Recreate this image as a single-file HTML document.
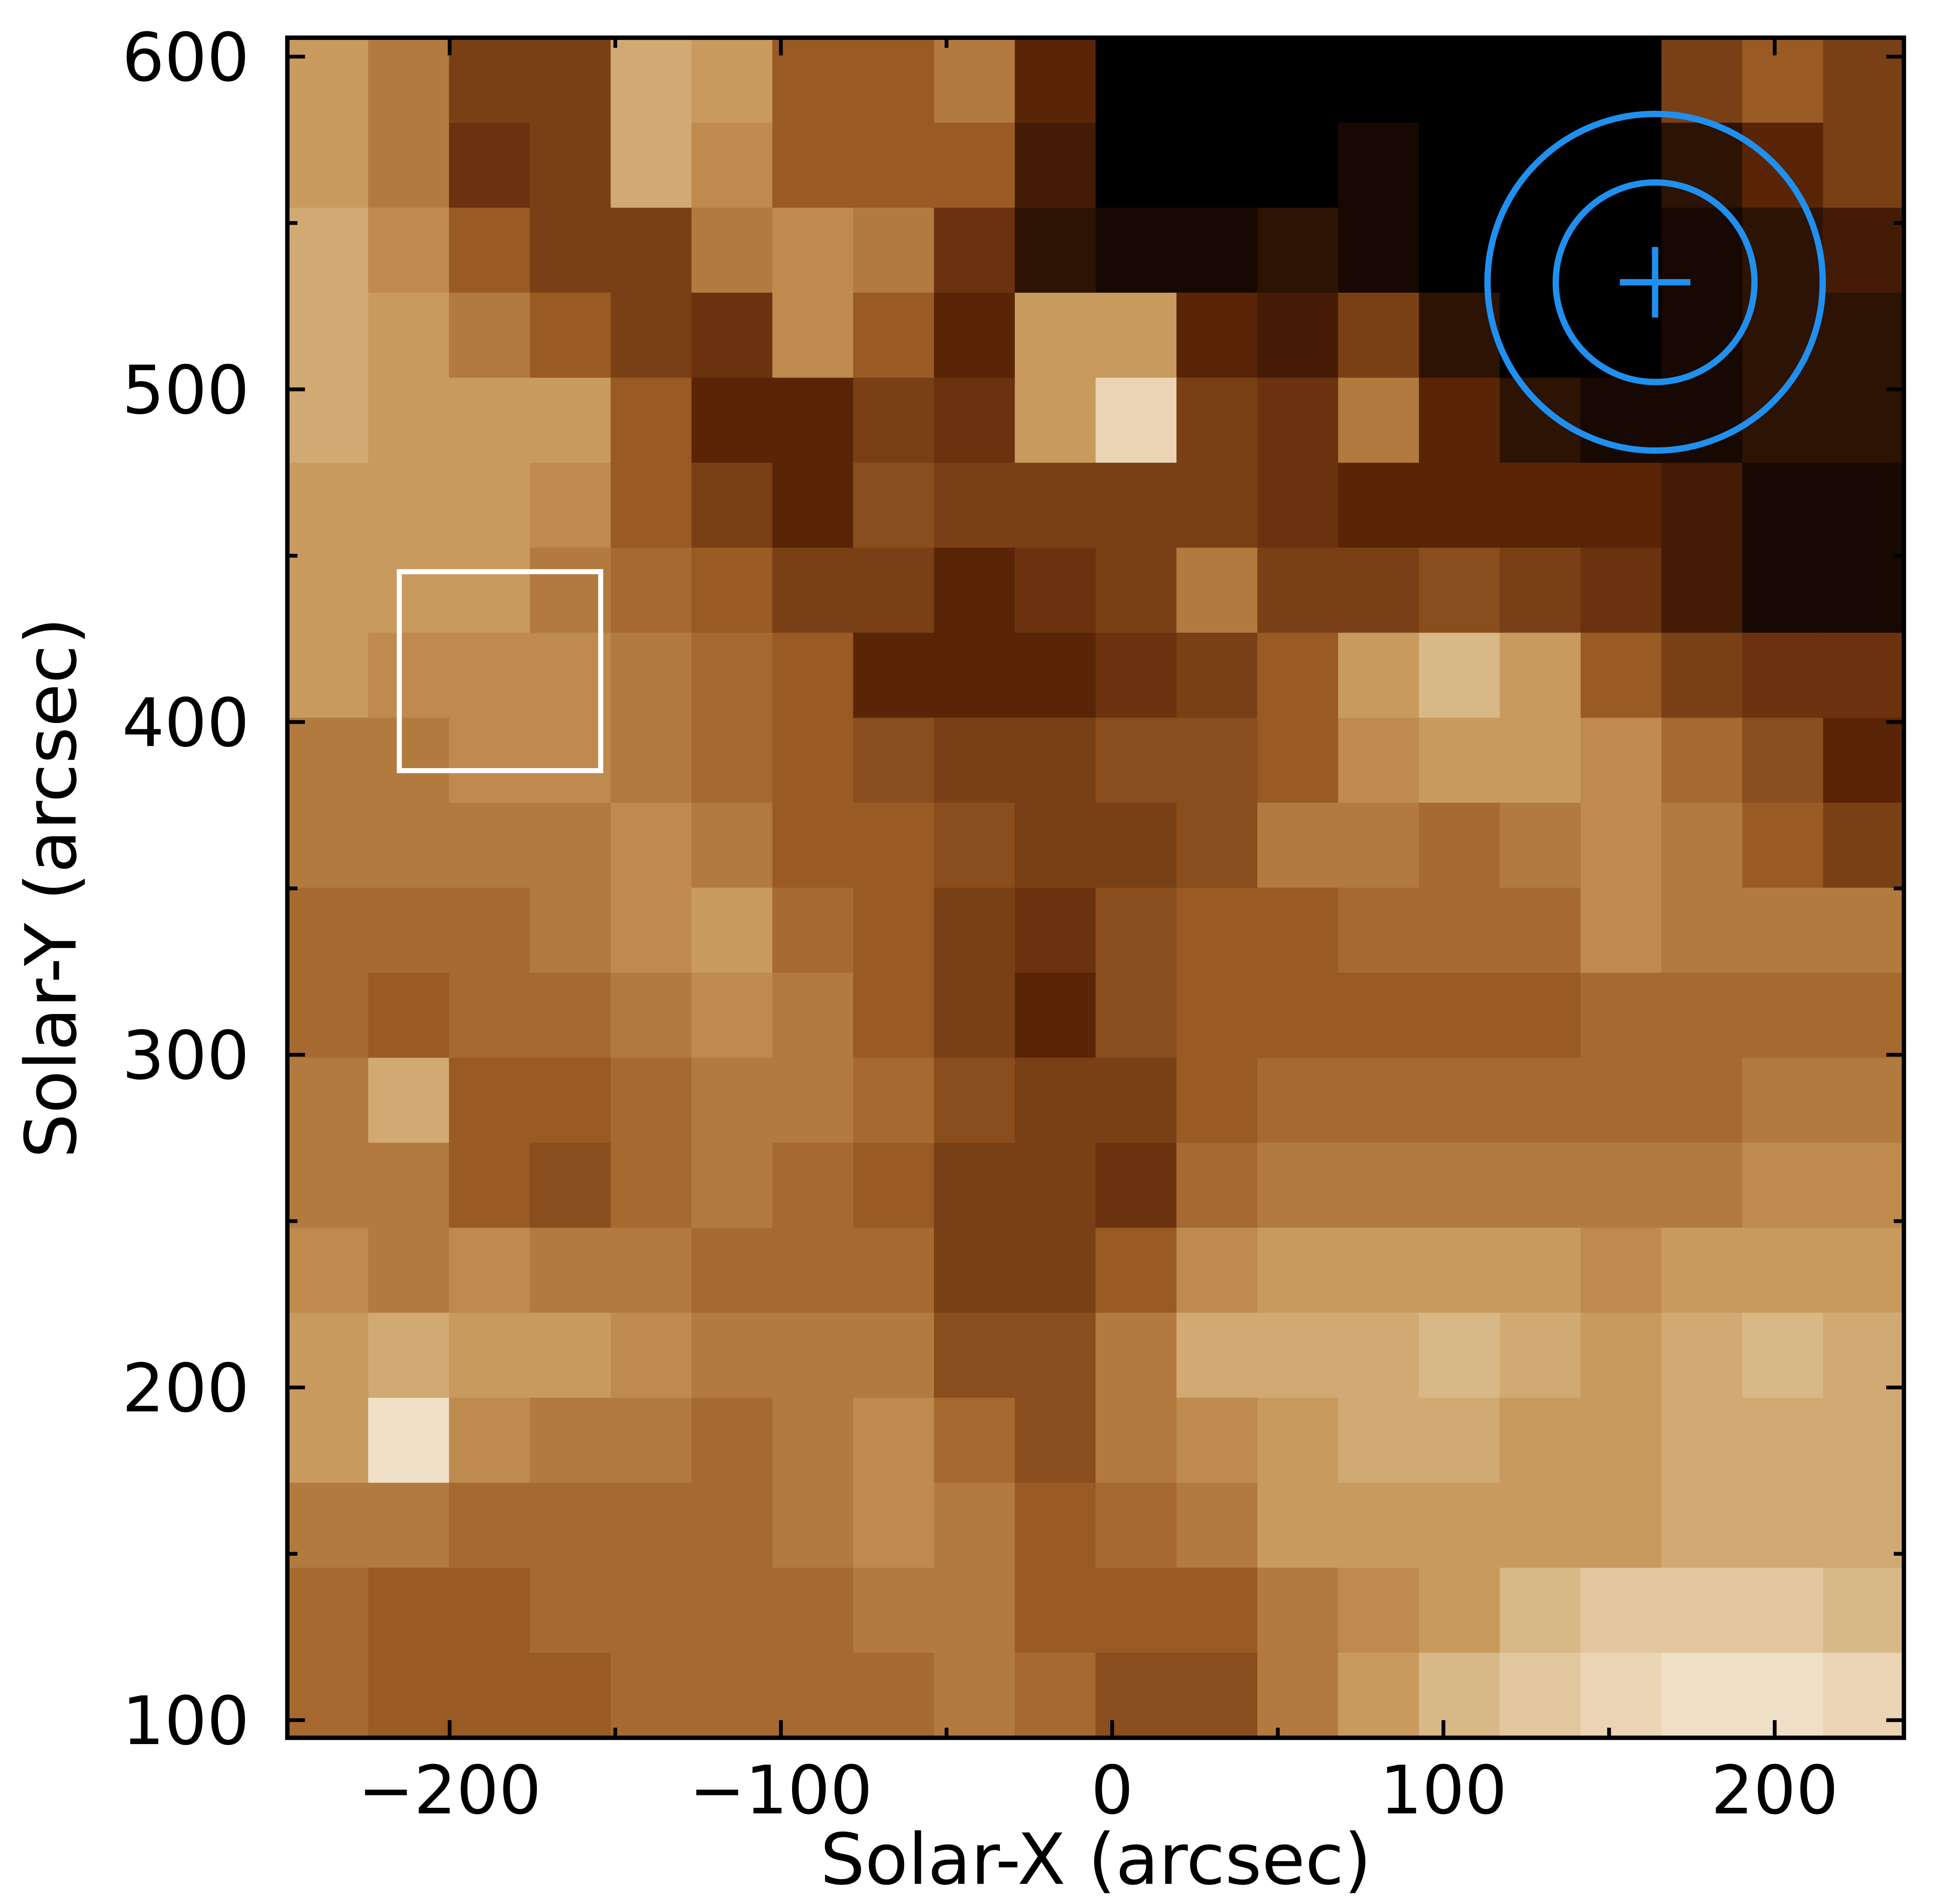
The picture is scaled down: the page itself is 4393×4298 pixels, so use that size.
<!DOCTYPE html>
<html><head><meta charset="utf-8"><style>
html,body{margin:0;padding:0;background:#fff;}
svg{display:block;font-family:"DejaVu Sans","Liberation Sans",sans-serif;}
</style></head><body>
<svg id="chart" width="4393" height="4298" viewBox="0 0 1545 1512" preserveAspectRatio="none" xmlns="http://www.w3.org/2000/svg">
<g id="heat"></g>
<g id="overlay"></g>
<g id="axes"></g>
</svg>
<script>
const xTicks=[-200,-100,0,100,200];
const yTicks=[100,200,300,400,500,600];
const xMinor=[-250,-150,-50,50,150];
const yMinor=[150,250,350,450,550];
const xRange=[-249,239];
const yRange=[94.7,605.7];
const heatRows=[
[6,5,3,3,6.5,6,4,4,5,2,0,0,0,0,0,0,0,3,4,3],
[6,5,2.5,3,6.5,5.5,4,4,4,1.5,0,0,0,0.5,0,0,0,1,2,3],
[6.5,5.5,4,3,3,5,5.5,5,2.5,1,0.5,0.5,1,0.5,0,0,0,0.5,1,1.5],
[6.5,6,5,4,3,2.5,5.5,4,2,6,6,2,1.5,3,1,0,0,0.5,1,1],
[6.5,6,6,6,4,2,2,3,2.5,6,8,3,2.5,5,2,1,0.5,0.5,1,1],
[6,6,6,5.5,4,3,2,3.5,3,3,3,3,2.5,2,2,2,2,1.5,0.5,0.5],
[6,6,6,5,4.5,4,3,3,2,2.5,3,5,3,3,3.5,3,2.5,1.5,0.5,0.5],
[6,5.5,5.5,5.5,5,4.5,4,2,2,2,2.5,3,4,6,7,6,4,3,2.5,2.5],
[5,5,5.5,5.5,5,4.5,4,3.5,3,3,3.5,3.5,4,5.5,6,6,5.5,4.5,3.5,2],
[5,5,5,5,5.5,5,4,4,3.5,3,3,3.5,5,5,4.5,5,5.5,5,4,3],
[4.5,4.5,4.5,5,5.5,6,4.5,4,3,2.5,3.5,4,4,4.5,4.5,4.5,5.5,5,5,5],
[4.5,4,4.5,4.5,5,5.5,5,4,3,2,3.5,4,4,4,4,4,4.5,4.5,4.5,4.5],
[5,6.5,4,4,4.5,5,5,4.5,3.5,3,3,4,4.5,4.5,4.5,4.5,4.5,4.5,5,5],
[5,5,4,3.5,4.5,5,4.5,4,3,3,2.5,4.5,5,5,5,5,5,5,5.5,5.5],
[5.5,5,5.5,5,5,4.5,4.5,4.5,3,3,4,5.5,6,6,6,6,5.5,6,6,6],
[6,6.5,6,6,5.5,5,5,5,3.5,3.5,5,6.5,6.5,6.5,7,6.5,6,6.5,7,6.5],
[6,8.5,5.5,5,5,4.5,5,5.5,4.5,3.5,5,5.5,6,6.5,6.5,6,6,6.5,6.5,6.5],
[5,5,4.5,4.5,4.5,4.5,5,5.5,5,4,4.5,5,6,6,6,6,6,6.5,6.5,6.5],
[4.5,4,4,4.5,4.5,4.5,4.5,5,5,4,4,4,5,5.5,6,7,7.5,7.5,7.5,7],
[4.5,4,4,4,4.5,4.5,4.5,4.5,5,4.5,3.5,3.5,5,6,7,7.5,8,8.5,8.5,8]
];
const boxX=[-215.2,-154.4];
const boxY=[385.4,445.2];
const target=[163.9,532.2];
const ringRadii=[50.6,30];

const NS="http://www.w3.org/2000/svg";
const X=v=>883+2.63*v;
const Y=v=>45+(600-v)*2.642;
const stops=[[0,[0,0,0]],[2,[90,37,6]],[4,[154,90,36]],[5,[178,122,62]],[6,[201,154,94]],[7,[217,184,136]],[8,[234,212,180]],[10,[255,255,255]]];
function cmap(v){for(let i=0;i<stops.length-1;i++){const a=stops[i],b=stops[i+1];if(v<=b[0]){const t=(v-a[0])/(b[0]-a[0]);return 'rgb('+a[1].map((c,k)=>Math.round(c+(b[1][k]-c)*t)).join(',')+')';}}return '#fff';}
function mk(tag,attrs,parent){const e=document.createElementNS(NS,tag);for(const k in attrs)e.setAttribute(k,attrs[k]);parent.appendChild(e);return e;}
const heat=document.getElementById('heat');
const nr=heatRows.length,nc=heatRows[0].length;
const dw=(xRange[1]-xRange[0])/nc,dh=(yRange[1]-yRange[0])/nr;
heatRows.forEach((row,j)=>row.forEach((v,i)=>{
 const x0=X(xRange[0]+i*dw),x1=X(xRange[0]+(i+1)*dw);
 const yt=Y(yRange[1]-j*dh),yb=Y(yRange[1]-(j+1)*dh);
 const r=mk('rect',{x:x0,y:yt,width:x1-x0+0.6,height:yb-yt+0.6,fill:cmap(v)},heat);
 
 
}));
const ov=document.getElementById('overlay');
const bx=mk('rect',{x:X(boxX[0]),y:Y(boxY[1]),width:X(boxX[1])-X(boxX[0]),height:Y(boxY[0])-Y(boxY[1]),fill:'none',stroke:'#fff','stroke-width':4},ov);


ringRadii.forEach(r=>{
 const c=mk('ellipse',{cx:X(target[0]),cy:Y(target[1]),rx:r*2.63,ry:r*2.642,fill:'none',stroke:'#2090f0','stroke-width':5},ov);
 
 
});
const cx=X(target[0]),cy=Y(target[1]);
const p=mk('path',{d:`M${cx-28},${cy}H${cx+28}M${cx},${cy-28}V${cy+28}`,stroke:'#2090f0','stroke-width':5},ov);



const ax=document.getElementById('axes');
const L=X(xRange[0]),R=X(xRange[1]),T=Y(yRange[1]),B=Y(yRange[0]);
const fr=mk('rect',{x:L,y:T,width:R-L,height:B-T,fill:'none',stroke:'#000','stroke-width':3.5},ax);


function tick(d){const t=mk('path',{d:d,stroke:'#000','stroke-width':3},ax);}
xTicks.forEach(v=>{const x=X(v);tick(`M${x},${B}v-14M${x},${T}v14`);
 const t=mk('text',{x:x,y:1440,'font-size':53,'text-anchor':'middle'},ax);t.textContent=String(v).replace('-','\u2212');
 });
xMinor.forEach(v=>{const x=X(v);if(x>L+2)tick(`M${x},${B}v-8M${x},${T}v8`);});
yTicks.forEach(v=>{const y=Y(v);tick(`M${L},${y}h14M${R},${y}h-14`);
 const t=mk('text',{x:198,y:y+19,'font-size':53,'text-anchor':'end'},ax);t.textContent=v;
 });
yMinor.forEach(v=>{const y=Y(v);tick(`M${L},${y}h8M${R},${y}h-8`);});
const xl=mk('text',{x:870,y:1496,'font-size':56,'text-anchor':'middle'},ax);xl.textContent='Solar-X (arcsec)';

const yl=mk('text',{x:0,y:0,'font-size':56,'text-anchor':'middle',transform:'translate(60,705) rotate(-90)'},ax);yl.textContent='Solar-Y (arcsec)';

</script>
</body></html>
